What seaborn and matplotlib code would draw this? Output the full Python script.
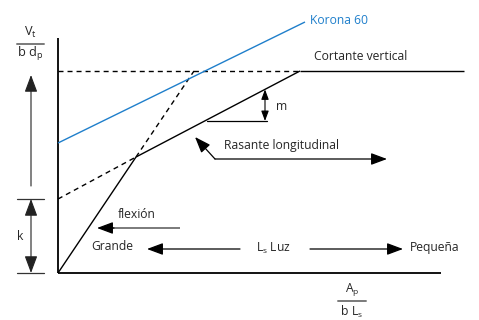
import matplotlib
matplotlib.use("Agg")
import matplotlib.pyplot as plt
import seaborn as sns
import pandas as pd

# Schematic curves, in units of the normalised axes (A_p / b L_s , V_t / b d_p)
flexion_x = [0.00, 0.78]
flexion_y = [0.00, 1.16]
flexion_ext_x = [0.78, 1.36]
flexion_ext_y = [1.16, 2.02]
rasante_x = [0.78, 2.42]
rasante_y = [1.16, 2.02]
rasante_ext_x = [0.00, 0.78]
rasante_ext_y = [0.74, 1.16]
cortante_x = [2.42, 4.06]
cortante_y = [2.02, 2.02]
cortante_ext_x = [0.00, 2.42]
cortante_ext_y = [2.02, 2.02]
korona_x = [0.00, 2.47]
korona_y = [1.30, 2.51]

# Axis extents
x_axis = [0.00, 3.83]
y_axis = [0.00, 2.35]
k_level = 0.74

labels = {
    "korona": "Korona 60",
    "cortante": "Cortante vertical",
    "rasante": "Rasante longitudinal",
    "flexion": "flexión",
    "grande": "Grande",
    "luz": r"$\mathregular{L_s}$ Luz",
    "pequena": "Pequeña",
    "m": "m",
    "k": "k",
}

sns.set_theme(style="white")
plt.rcParams["font.family"] = ["Open Sans", "DejaVu Sans"]
plt.rcParams["mathtext.fontset"] = "custom"
plt.rcParams["mathtext.rm"] = "Open Sans"
plt.rcParams["mathtext.it"] = "Open Sans"

TXT = "#262626"
GREY = "#7a7a7a"
BLUE = "#1f7fcb"
FS = 8.7

fig = plt.figure(figsize=(4.79, 3.20), dpi=100)
ax = fig.add_axes([0, 0, 1, 1])
ax.set_xlim(-0.58, 4.21)
ax.set_ylim(-0.47, 2.73)
ax.axis("off")

dash = (0, (3.6, 2.9))


def seg(xs, ys, color="black", lw=1.0, ls="-"):
    df = pd.DataFrame({"x": xs, "y": ys})
    sns.lineplot(data=df, x="x", y="y", ax=ax, color=color, lw=lw,
                 linestyle=ls, estimator=None, sort=False,
                 solid_capstyle="butt", dash_capstyle="butt")


# Axes
seg([0, 0], y_axis, lw=1.3)
seg(x_axis, [0, 0], lw=1.3)

# Curves
seg(flexion_x, flexion_y)
seg(flexion_ext_x, flexion_ext_y, ls=dash)
seg(rasante_x, rasante_y)
seg(rasante_ext_x, rasante_ext_y, ls=dash)
seg(cortante_x, cortante_y)
seg(cortante_ext_x, cortante_ext_y, ls=dash)
seg(korona_x, korona_y, color=BLUE)
ax.set_xlabel("")
ax.set_ylabel("")

head = "-|>,head_length=0.75,head_width=0.28"
dhead = "<|-|>,head_length=0.75,head_width=0.28"


def arrow(p0, p1, style=head, color="black", lw=0.9, scale=13):
    ax.annotate("", xy=p1, xytext=p0,
                arrowprops=dict(arrowstyle=style, color=color, lw=lw,
                                mutation_scale=scale, shrinkA=0, shrinkB=0))


# Ordinate label
ax.text(-0.28, 2.41, r"$\mathregular{V_t}$", ha="center", va="center", fontsize=FS + 0.5, color=TXT)
ax.plot([-0.41, -0.14], [2.29, 2.29], color=GREY, lw=1.4)
ax.text(-0.28, 2.19, r"$\mathregular{b\ d_p}$", ha="center", va="center", fontsize=FS + 0.5, color=TXT)

# Left-hand scale arrows
arrow((-0.27, 0.87), (-0.27, 1.98), lw=0.8, color="#222222", scale=14)
ax.plot([-0.41, -0.14], [k_level, k_level], color="#333333", lw=0.9)
ax.plot([-0.41, -0.14], [0, 0], color="#333333", lw=0.9)
arrow((-0.27, k_level), (-0.27, 0.0), style=dhead, lw=0.8, color="#222222", scale=14)
ax.text(-0.38, 0.36, labels["k"], ha="center", va="center", fontsize=FS, color=TXT)

# Abscissa label
ax.text(2.94, -0.17, r"$\mathregular{A_p}$", ha="center", va="center", fontsize=FS, color=TXT)
ax.plot([2.80, 3.08], [-0.275, -0.275], color=GREY, lw=1.4)
ax.text(2.94, -0.385, r"$\mathregular{b\ L_s}$", ha="center", va="center", fontsize=FS, color=TXT)

# Curve labels
ax.text(2.52, 2.53, labels["korona"], ha="left", va="center", fontsize=FS, color=BLUE)
ax.text(2.56, 2.17, labels["cortante"], ha="left", va="center", fontsize=FS, color=TXT)

# m dimension
arrow((2.07, 1.52), (2.07, 1.836), style=dhead, lw=0.8, scale=8)
ax.plot([1.49, 2.09], [1.52, 1.52], color="black", lw=0.9)
ax.text(2.24, 1.66, labels["m"], ha="center", va="center", fontsize=FS, color=TXT)

# Rasante longitudinal pointer
arrow((1.57, 1.14), (3.29, 1.14))
arrow((1.57, 1.14), (1.37, 1.36))
ax.text(1.66, 1.27, labels["rasante"], ha="left", va="center", fontsize=FS, color=TXT)

# Flexion pointer: grey shaft, black head
ax.plot([0.50, 1.22], [0.45, 0.45], color=GREY, lw=1.4, solid_capstyle="butt")
arrow((0.56, 0.45), (0.39, 0.45), lw=0.9)
ax.text(0.79, 0.585, labels["flexion"], ha="center", va="center", fontsize=FS, color=TXT)

# Span direction
ax.text(0.54, 0.26, labels["grande"], ha="center", va="center", fontsize=FS, color=TXT)
arrow((1.82, 0.24), (0.89, 0.24))
ax.text(2.15, 0.245, labels["luz"], ha="center", va="center", fontsize=FS, color=TXT)
arrow((2.52, 0.24), (3.45, 0.24))
ax.text(3.52, 0.26, labels["pequena"], ha="left", va="center", fontsize=FS, color=TXT)

fig.savefig("out.png", dpi=100, facecolor="white")
